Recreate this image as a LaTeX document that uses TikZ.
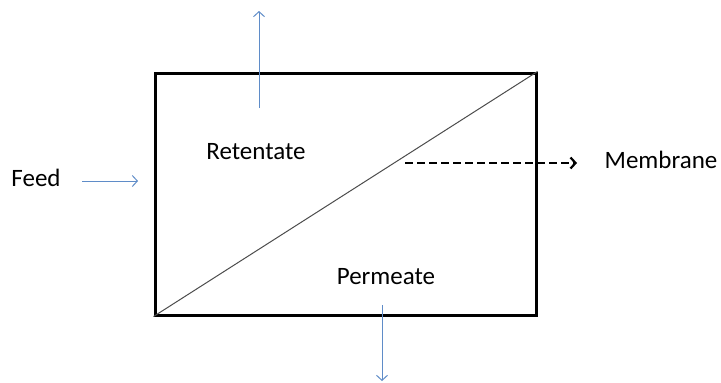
\documentclass[tikz,border=0pt]{standalone}
\usepackage{fontspec}
\setmainfont{Carlito}
\usetikzlibrary{arrows.meta}
\definecolor{flowblue}{RGB}{95,140,200}
\begin{document}
\begin{tikzpicture}[x=1pt,y=-1pt,
  lbl/.style={font=\fontsize{25}{30}\selectfont, inner sep=0pt, text=black},
  flow/.style={draw=flowblue, line width=1pt, -{Straight Barb[length=5pt,width=11pt,line width=1pt]}},
  memb/.style={draw=black, line width=2.6pt, dash pattern=on 8pt off 4pt, -{Straight Barb[length=5pt,width=11pt,line width=2.2pt]}}]
\useasboundingbox (0,0) rectangle (721,383);
\node[draw, line width=3pt, minimum width=381pt, minimum height=242pt, inner sep=0pt] (box) at (345.5,194) {};
\draw[black!70, line width=1pt] (box.south west) -- (box.north east);
\node[lbl] (feed) at (36,178) {Feed};
\node[lbl] (ret) at (256,152) {Retentate};
\node[lbl] (mem) at (661,160) {Membrane};
\node[lbl] (per) at (386,277) {Permeate};
\coordinate (fa) at (82,181);
\coordinate (fb) at (138,181);
\coordinate (ua) at (259,108);
\coordinate (ub) at (259,11);
\coordinate (da) at (382,305);
\coordinate (db) at (382,381);
\coordinate (ma) at (405,163);
\coordinate (mb) at (577,163);
\draw[flow] (fa) -- (fb);
\draw[flow] (ua) -- (ub);
\draw[flow] (da) -- (db);
\draw[memb] (ma) -- (mb);
\end{tikzpicture}
\end{document}
